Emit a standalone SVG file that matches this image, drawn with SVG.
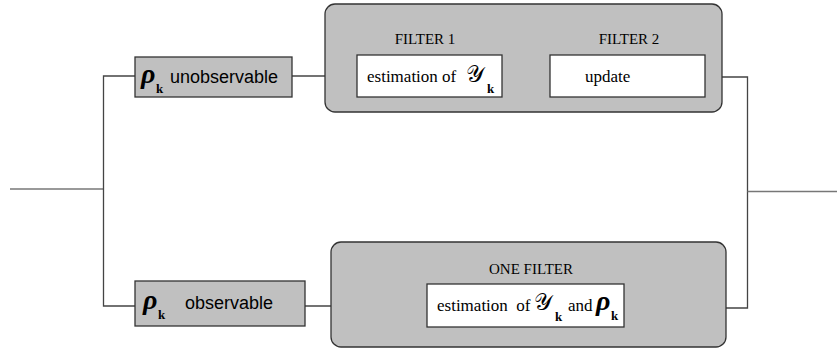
<svg xmlns="http://www.w3.org/2000/svg" width="837" height="349" viewBox="0 0 837 349">
<style>
.grp{fill:#c0c0c0;stroke:#333;stroke-width:1.3}
.box{fill:#c0c0c0;stroke:#333;stroke-width:1.3}
.wbox{fill:#fff;stroke:#333;stroke-width:1.3}
.ln{fill:none;stroke:#444;stroke-width:1.3}
.hl{fill:none;stroke:#777;stroke-width:1.6}
.ser{font-family:"Liberation Serif","Times New Roman",serif;fill:#000}
.sans{font-family:"Liberation Sans",Arial,sans-serif;fill:#000}
.ttl{font-family:"Liberation Serif","Times New Roman",serif;font-size:15px;fill:#000;text-anchor:middle}
.rho{font-family:"Liberation Serif","Times New Roman",serif;font-style:italic;font-weight:bold;font-size:28px}
.scr{font-family:"DejaVu Serif","Liberation Serif",serif;font-size:23px}
.sub{font-family:"Liberation Serif","Times New Roman",serif;font-weight:bold;font-size:13px}
</style>
<g id="connectors">
<polyline class="hl" points="10,189 103.5,189"/>
<polyline class="ln" points="135,76 103.5,76 103.5,306 135,306"/>
<polyline class="ln" points="292,76 357,76"/>
<polyline class="ln" points="502,77 550,77"/>
<polyline class="ln" points="705,77 747.5,77 747.5,308 624,308"/>
<polyline class="ln" points="305,306 427,306"/>
<polyline class="hl" points="747.5,191.5 837,191.5"/>
</g>
<g id="filterGroupTop">
<rect class="grp" x="325" y="4" width="397" height="108" rx="10"/>
<text class="ttl" x="425" y="44">FILTER 1</text>
<text class="ttl" x="629" y="44">FILTER 2</text>
</g>
<g id="filterGroupBottom">
<rect class="grp" x="331" y="242" width="395" height="105" rx="10"/>
<text class="ttl" x="531" y="274">ONE FILTER</text>
</g>
<g id="unobservable">
<rect class="box" x="135" y="57" width="157" height="40"/>
<text class="rho" x="141" y="83">ρ</text>
<text class="sub" x="156" y="93">k</text>
<text class="sans" x="170" y="83" font-size="18">unobservable</text>
</g>
<g id="observable">
<rect class="box" x="135" y="281" width="170" height="45"/>
<text class="rho" x="143" y="309">ρ</text>
<text class="sub" x="158" y="319">k</text>
<text class="sans" x="185" y="309" font-size="18">observable</text>
</g>
<g id="estimation1">
<rect class="wbox" x="357" y="55" width="145" height="42"/>
<text class="ser" x="367" y="82" font-size="17">estimation of</text>
<text class="scr" x="466" y="82">𝒴</text>
<text class="sub" x="487" y="93">k</text>
</g>
<g id="update">
<rect class="wbox" x="550" y="55" width="155" height="42"/>
<text class="ser" x="585" y="82" font-size="17">update</text>
</g>
<g id="estimation2">
<rect class="wbox" x="427" y="284" width="197" height="43"/>
<text class="ser" x="437" y="311" font-size="17" xml:space="preserve">estimation  of</text>
<text class="scr" x="534" y="310">𝒴</text>
<text class="sub" x="555" y="321">k</text>
<text class="ser" x="568" y="311" font-size="17">and</text>
<text class="rho" x="596" y="310">ρ</text>
<text class="sub" x="611" y="320">k</text>
</g>
</svg>
